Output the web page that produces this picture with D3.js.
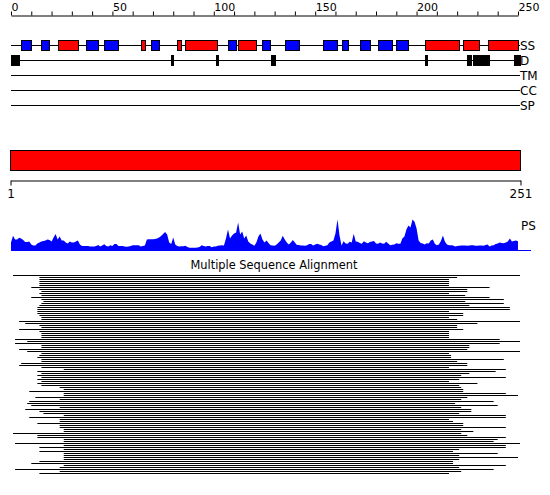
<!DOCTYPE html>
<html>
<head>
<meta charset="utf-8">
<script src="https://cdn.jsdelivr.net/npm/d3@7"></script>
<style>
  body { margin: 0; background: #fff; }
  text { font-family: "DejaVu Sans", sans-serif; }
</style>
</head>
<body>
<div id="demo"></div>
<script>
var svgWidth = 550
var svgHeight = 495

// secondary structure: H = helix (red), E = strand (blue)
var ssStart = [5, 15, 23, 37, 46, 64, 69, 82, 86, 107, 112, 124, 135, 154, 163, 172, 181, 190, 204, 223, 235]
var ssEnd   = [10, 19, 33, 43, 53, 66, 73, 84, 102, 111, 121, 128, 142, 161, 166, 177, 188, 196, 221, 231, 250]
var ssType  = ["E","E","H","E","E","H","E","H","H","E","H","E","E","E","E","E","E","E","H","H","H"]

// disorder
var dStart = [0, 79, 101, 128, 204, 225, 228, 248]
var dEnd   = [4, 80, 102, 130, 205, 227, 236, 251]

var trackNames = ["SS", "D", "TM", "CC", "SP"]
var topTicks = d3.range(0, 251, 10)
var topLabels = [0, 50, 100, 150, 200, 250]
var rulerTicks = [1, 251]

// PS profile, one value per residue
var psValues = [8,14.7,11,11,12.7,12,10.5,8.5,8.5,9, 6,5,5,7,8,9,9.5,10,11,10.5,
  9,13,16.5,11,14,10,10,8,7,9, 8,8,9,10,6,4.5,4.5,4.5,4.5,4,
  4,4,4.5,5.5,4,5,6.3,4.5,4,5.3, 4.5,6.5,6.5,4.5,4.5,4.5,4,3.7,4,4.5,
  5.3,5.3,5.3,5.3,4,4.5,5,11,11.3,11.3, 11.3,11.5,12,13,14.5,16.5,18.5,16,8,6.5,
  13,6,4.5,4,4.3,4.3,4.7,3.5,2.7,2.7, 2.7,2.7,3,3.5,5.3,4.5,4,4.5,4.5,3.3,
  4,4,4.7,5,5.3,5,12,21,12,15, 17,18,28,16,19,12,15,9,7,6,
  4.7,8,14,17,11,8,10,7.5,5.3,5, 4.7,6,8,10,14.7,11,8,6,8,10.5,
  8,5.5,5.5,5,5,4.7,5.3,6.5,6.5,5, 6,6.7,6,5.5,4.3,4.7,5.3,8,9,10,
  17,31,15,5,9.3,7,6.7,8.7,8,16.7, 9,8.7,7.5,6.7,9.3,8,7.3,8.5,9,9.5,
  7,6.7,8,7,6.7,8.7,7,5.3,5.7,6, 7.3,6.7,6.7,12,14,21,25,23,31,28.7,
  22,10,7.5,7,6,7.3,7,10,11,6.7, 5.3,6,9.5,15,8.7,6,5.3,5.3,5,4,
  4.5,4.7,5,5,5,4.7,5,5.3,5.3,4.7, 4.7,5,5,4.7,5.5,6,4,5,5.3,6.5,
  7,8,7.5,7.3,8,9,12,9,9.5,10, 9.3]

// alignment: first and last residue of each aligned sequence
var msaStart = [1,14,14,14,14,14,10,14,15,14, 15,10,15,16,15,14,13,13,13,13,
  14,15,15,4,7,14,15,4,14,15, 15,15,2,8,2,15,15,4,8,15,
  14,13,15,15,5,4,15,26,13,15, 13,15,13,15,13,15,24,26,9,26,
  26,12,24,9,8,10,24,7,14,16, 26,9,24,24,13,24,24,26,26,1,
  13,13,26,26,2,26,14,26,14,26, 26,26,26,14,10,26,24,2,24,14]
var msaEnd = [251,220,216,216,216,216,236,225,225,216, 224,236,243,224,243,226,246,246,216,223,
  223,216,220,251,230,220,220,223,216,216, 216,216,241,251,241,226,226,225,251,216,
  217,217,243,220,225,225,216,244,239,226, 222,244,221,216,230,221,222,223,223,244,
  250,225,222,238,219,240,222,227,227,221, 244,244,216,218,223,223,244,222,228,222,
  225,244,240,238,251,244,244,221,218,240, 221,250,221,218,218,244,221,238,222,216]

var svg = d3.select("#demo").append("svg")
    .attr("width", svgWidth)
    .attr("height", svgHeight)

var x = d3.scaleLinear().domain([0, 251]).range([11, 520])

//top axis
var xTop = d3.scaleLinear().domain([0, 250]).range([x(0), x(250)])
var topAxis = svg.append("g")
    .attr("transform", "translate(0,15.5)")
    .call(d3.axisTop(xTop)
        .tickValues(topTicks)
        .tickSize(4)
        .tickSizeOuter(0)
        .tickPadding(1)
        .tickFormat(function(d){ return topLabels.indexOf(d) >= 0 ? d : ""; }))
topAxis.selectAll("text")
    .attr("text-anchor", "start")
    .style("font-family", "DejaVu Sans")
    .style("font-size", "11px")
    .style("fill", "#000")

//tracks
var trackY = d3.scalePoint().domain(trackNames).range([45, 105])

svg.selectAll("line.track")
    .data(trackNames)
    .enter()
    .append("line")
    .attr("x1", x(0))
    .attr("x2", x(251))
    .attr("y1", function(d){ return trackY(d) + 0.5; })
    .attr("y2", function(d){ return trackY(d) + 0.5; })
    .attr("stroke", "black")

svg.selectAll("text.track")
    .data(trackNames)
    .enter()
    .append("text")
    .attr("x", x(251))
    .attr("y", function(d){ return trackY(d) + 5; })
    .style("font-size", "12px")
    .text(function(d){ return d; })

var ss = ssStart.map(function(s, i){ return {s: s, e: ssEnd[i], t: ssType[i]}; })
svg.selectAll("rect.ss")
    .data(ss)
    .enter()
    .append("rect")
    .attr("x", function(d){ return Math.round(x(d.s)) + 0.5; })
    .attr("y", trackY("SS") - 4.5)
    .attr("width", function(d){ return Math.round(x(d.e) - x(d.s)); })
    .attr("height", 10)
    .attr("fill", function(d){ return d.t == "H" ? "#ff0000" : "#0000ff"; })
    .attr("stroke", "black")

var dis = dStart.map(function(s, i){ return {s: s, e: dEnd[i]}; })
svg.selectAll("rect.dis")
    .data(dis)
    .enter()
    .append("rect")
    .attr("x", function(d){ return Math.round(x(d.s)) + 0.5; })
    .attr("y", trackY("D") - 4.5)
    .attr("width", function(d){ return Math.max(1, Math.round(x(d.e) - x(d.s))); })
    .attr("height", 10)
    .attr("fill", "black")
    .attr("stroke", "black")

//sequence bar and ruler
svg.append("rect")
    .attr("x", 10.5)
    .attr("y", 150.5)
    .attr("width", 510)
    .attr("height", 20)
    .attr("fill", "#ff0000")
    .attr("stroke", "black")

var xRuler = d3.scaleLinear().domain([1, 251]).range([10.5, 520.5])
var ruler = svg.append("g")
    .attr("transform", "translate(0,180.5)")
    .call(d3.axisBottom(xRuler)
        .tickValues(rulerTicks)
        .tickSize(5)
        .tickSizeOuter(0)
        .tickPadding(4)
        .tickFormat(d3.format("d")))
ruler.selectAll("text")
    .style("font-family", "DejaVu Sans")
    .style("font-size", "12px")
    .style("fill", "#000")

//PS profile
var yPs = d3.scaleLinear().domain([0, 32]).range([250.5, 218.5])
var area = d3.area()
    .x(function(d, i){ return x(i); })
    .y0(yPs(0))
    .y1(function(d){ return yPs(d); })

svg.append("path")
    .datum(psValues)
    .attr("d", area)
    .attr("fill", "#0000ff")

svg.append("line")
    .attr("x1", x(0))
    .attr("x2", 531)
    .attr("y1", yPs(0))
    .attr("y2", yPs(0))
    .attr("stroke", "#0000ff")

svg.append("text")
    .attr("x", 521)
    .attr("y", 230)
    .style("font-size", "12px")
    .text("PS")

//alignment
svg.append("text")
    .attr("x", 274)
    .attr("y", 269)
    .attr("text-anchor", "middle")
    .style("font-size", "11.4px")
    .text("Multiple Sequence Alignment")

var rows = d3.range(msaStart.length)
var yMsa = d3.scaleLinear().domain([0, rows.length - 1]).range([275, 275 + 2 * (rows.length - 1)])

svg.selectAll("rect.msa")
    .data(rows)
    .enter()
    .append("rect")
    .attr("x", function(i){ return x(msaStart[i]); })
    .attr("y", function(i){ return yMsa(i); })
    .attr("width", function(i){ return x(msaEnd[i]) - x(msaStart[i]); })
    .attr("height", 1)
    .attr("fill", "black")
</script>
</body>
</html>
